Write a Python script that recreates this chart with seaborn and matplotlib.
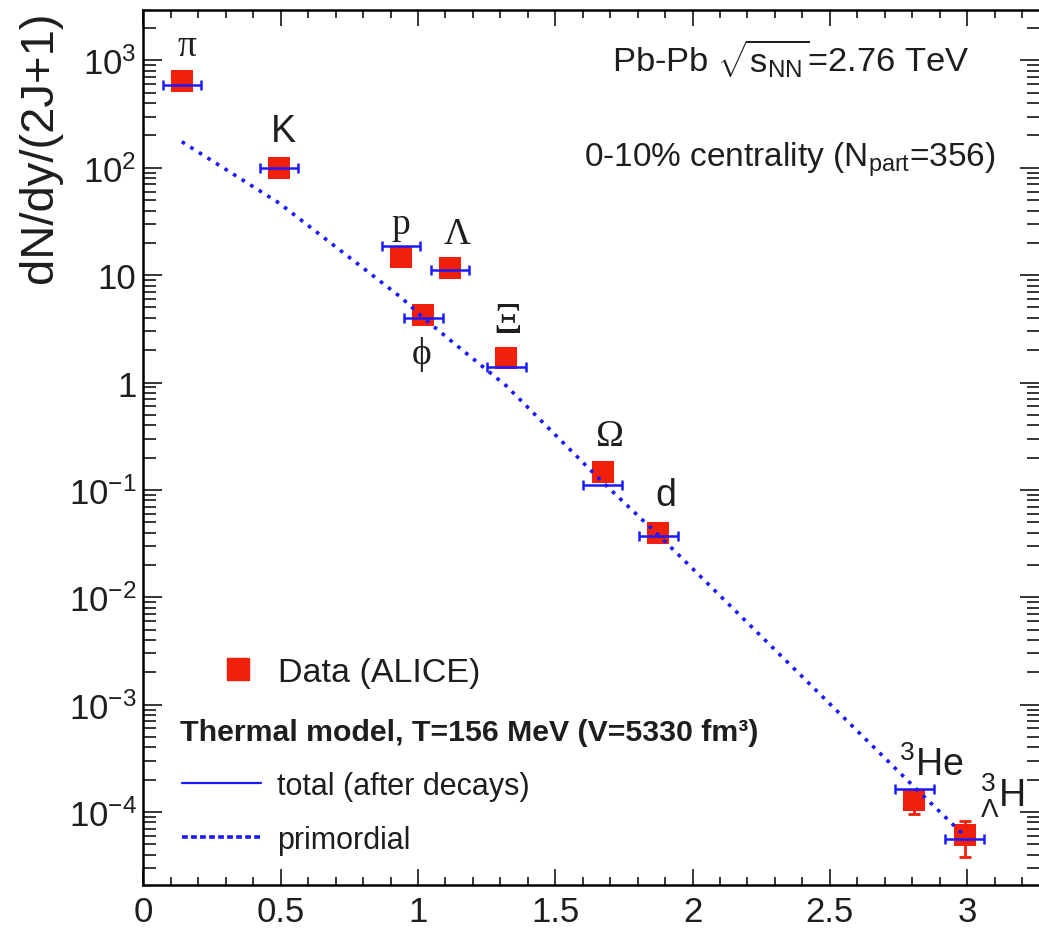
import numpy as np
import pandas as pd
import matplotlib
matplotlib.use('Agg')
import matplotlib.pyplot as plt
import seaborn as sns
from matplotlib.ticker import MultipleLocator, FixedLocator, FuncFormatter, NullFormatter
from matplotlib.lines import Line2D

# ---------------- data ----------------
particles = ['pi', 'K', 'p', 'phi', 'Lambda', 'Xi', 'Omega', 'd', 'He3', 'H3L']
labels = ['π', 'K', 'p', 'ϕ', 'Λ', 'Ξ', 'Ω', 'd', r'$^{3}$He', r'$^{3}_{\Lambda}$H']
mass = [0.1396, 0.4937, 0.9383, 1.0195, 1.1157, 1.3217, 1.6725, 1.8756, 2.8084, 2.9910]
data_yield = [649, 99, 14.7, 4.27, 11.6, 1.69, 0.148, 0.0399, 1.28e-4, 6.05e-5]
data_err = [0, 0, 0, 0, 0, 0, 0, 0, 3.2e-5, 2.2e-5]
model_total = [590, 100, 18.6, 3.98, 11.2, 1.41, 0.112, 0.0372, 1.65e-4, 5.65e-5]
model_primordial = [175, 47, 6.2, 4.0, 2.5, 0.93, 0.118, 0.038, 1.7e-4, 6.0e-5]
y_decades = [1e-4, 1e-3, 1e-2, 1e-1, 1, 10, 100, 1000]

# label placement / style (offsets in points from each data point)
label_dx = [4, 3, 0, -1, 5, 1, 5, 5, 12, 27]
label_dy = [25, 27, 24, -28, 25, 27, 26, 27, 26, 29]
label_size = [27, 27, 27, 27, 27, 32, 27, 27, 27, 27]
serif_label = [True, False, True, True, True, True, True, False, False, False]

df = pd.DataFrame({'particle': particles, 'mass': mass, 'data': data_yield,
                   'err': data_err, 'total': model_total, 'prim': model_primordial})

RED = '#f0200a'
BLUE = '#1a1aff'
TXT = '#1e1e1e'

sns.set_style('ticks')
plt.rcParams['font.family'] = ['Liberation Sans', 'DejaVu Sans']
plt.rcParams['mathtext.fontset'] = 'custom'
plt.rcParams['mathtext.rm'] = 'Liberation Sans'
plt.rcParams['mathtext.it'] = 'Liberation Sans:italic'
plt.rcParams['mathtext.bf'] = 'Liberation Sans:bold'

fig = plt.figure(figsize=(10.39, 9.29), dpi=100)
ax = fig.add_axes([0.1381, 0.0463, 0.8619, 0.9419])
ax.set_yscale('log')
ax.set_xlim(0, 3.262)
ax.set_ylim(2.09e-5, 2951)

# data squares
sns.scatterplot(data=df, x='mass', y='data', marker='s', s=250, color=RED,
                edgecolor='none', linewidth=0, ax=ax, zorder=2, legend=False)
err_df = df[df['err'] > 0]
ax.errorbar(err_df['mass'], err_df['data'], yerr=err_df['err'], fmt='none',
            ecolor=RED, elinewidth=2, capsize=4, capthick=2, zorder=2)

# model total (horizontal bars)
ax.errorbar(df['mass'], df['total'], xerr=0.07, fmt='none', ecolor=BLUE,
            elinewidth=1.8, capsize=3.5, capthick=1.8, zorder=4)

# primordial dotted line
sns.lineplot(data=df, x='mass', y='prim', sort=True, estimator=None, color=BLUE,
             linewidth=2.6, linestyle=(0, (1, 1.8)), ax=ax, zorder=3)

# particle labels
for i in range(len(particles)):
    fam = ['Liberation Serif', 'DejaVu Serif'] if serif_label[i] else ['Liberation Sans', 'DejaVu Sans']
    ax.annotate(labels[i], (df['mass'][i], df['data'][i]), xytext=(label_dx[i], label_dy[i]),
                textcoords='offset points', ha='center', va='center',
                fontsize=label_size[i], family=fam, color=TXT, zorder=5)

# axes styling
ax.set_xlabel('')
ax.set_ylabel('dN/dy/(2J+1)', fontsize=34, color=TXT)
ax.yaxis.set_label_coords(-0.091, 0.8446)
ax.xaxis.set_major_locator(MultipleLocator(0.5))
ax.xaxis.set_minor_locator(MultipleLocator(0.1))
ax.xaxis.set_major_formatter(FuncFormatter(lambda v, p: f'{v:g}'))
ax.yaxis.set_major_locator(FixedLocator(y_decades))
minor = [m * d for d in [1e-5] + y_decades for m in range(2, 10)]
ax.yaxis.set_minor_locator(FixedLocator(minor))
ax.yaxis.set_minor_formatter(NullFormatter())

def yfmt(v, p):
    e = int(round(np.log10(v)))
    if e == 0:
        return '1'
    if e == 1:
        return '10'
    return r'$10^{%d}$' % e
ax.yaxis.set_major_formatter(FuncFormatter(yfmt))

ax.tick_params(axis='both', which='both', direction='in', top=True, right=True,
               colors='black', width=1.1, labelcolor=TXT)
ax.tick_params(axis='x', which='major', length=11.5, labelsize=25, pad=7)
ax.tick_params(axis='x', which='minor', length=5.8)
ax.tick_params(axis='y', which='major', length=13.5, labelsize=25, pad=5)
ax.tick_params(axis='y', which='minor', length=9)
for s in ['left', 'bottom', 'top']:
    ax.spines[s].set_linewidth(1.8)
    ax.spines[s].set_color('black')
ax.spines['right'].set_visible(False)

# header texts
ax.text(0.723, 0.929, r'Pb-Pb $\sqrt{\mathrm{s}_{\mathrm{NN}}}$=2.76 TeV', transform=ax.transAxes,
        ha='center', va='baseline', fontsize=24.8, color=TXT)
ax.text(0.722, 0.8217, r'0-10% centrality ($\mathrm{N}_{\mathrm{part}}$=356)', transform=ax.transAxes,
        ha='center', va='baseline', fontsize=24, color=TXT)

# legends
h_data = [Line2D([], [], marker='s', color=RED, linestyle='none', markersize=15.5)]
leg1 = ax.legend(h_data, ['Data (ALICE)'], loc='center left', bbox_to_anchor=(0.0653, 0.2434),
                 frameon=False, fontsize=24.5, handlelength=2.1, handletextpad=0.12,
                 borderpad=0, borderaxespad=0, labelcolor=TXT)
ax.add_artist(leg1)
ax.text(0.0408, 0.1749, 'Thermal model, T=156 MeV (V=5330 fm³)', transform=ax.transAxes,
        ha='left', va='center', fontsize=21.8, fontweight='bold', color=TXT)
h_lines = [Line2D([], [], color=BLUE, linewidth=1.6),
           Line2D([], [], color=BLUE, linewidth=2.6, linestyle=(0, (1.6, 0.9)))]
ax.legend(h_lines, ['total (after decays)', 'primordial'], loc='center left',
          bbox_to_anchor=(0.043, 0.0823), frameon=False, fontsize=22,
          handlelength=2.6, handletextpad=0.5, labelspacing=0.78,
          borderpad=0, borderaxespad=0, labelcolor=TXT)

fig.savefig('out.png', dpi=100)
